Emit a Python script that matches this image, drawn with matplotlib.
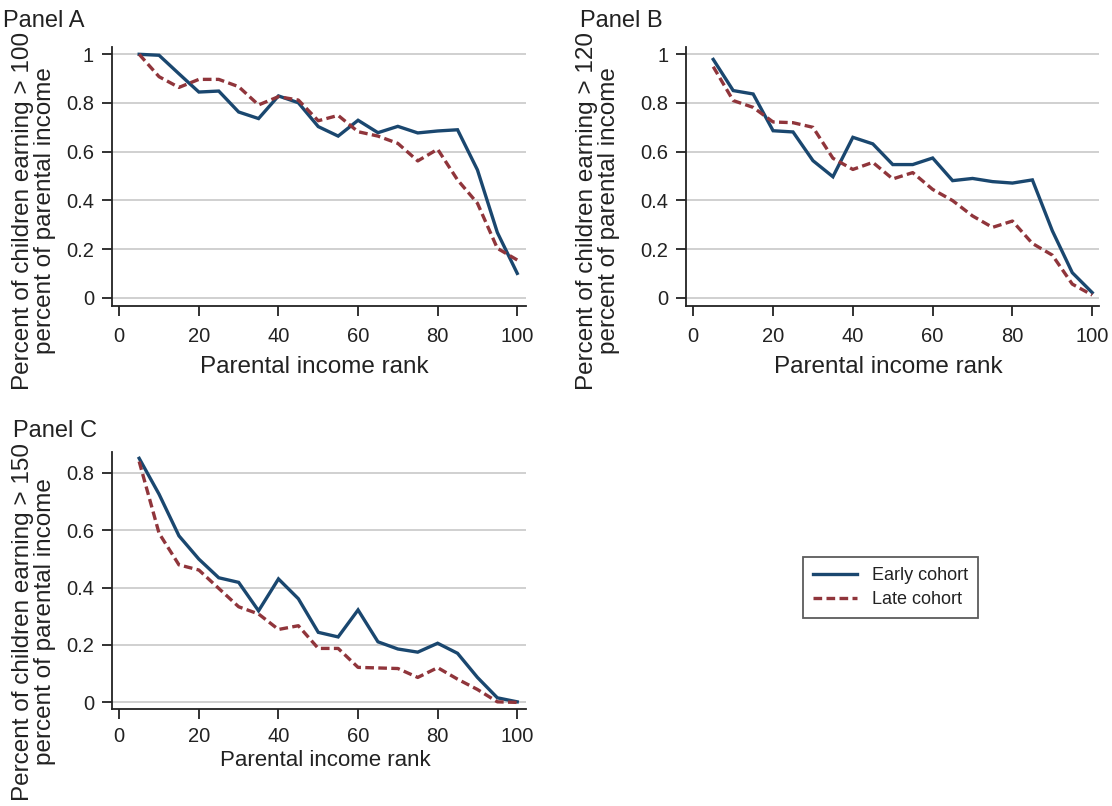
import matplotlib
matplotlib.use("Agg")
import matplotlib.pyplot as plt
import numpy as np

plt.rcParams['font.family'] = ['Liberation Sans', 'DejaVu Sans']

rank = [5, 10, 15, 20, 25, 30, 35, 40, 45, 50, 55, 60, 65, 70, 75, 80, 85, 90, 95, 100]

a_early = [1.0, 0.996, 0.92, 0.845, 0.849, 0.763, 0.736, 0.829, 0.801, 0.703,
           0.664, 0.729, 0.678, 0.704, 0.677, 0.685, 0.69, 0.525, 0.268, 0.10]
a_late = [1.0, 0.908, 0.864, 0.897, 0.897, 0.867, 0.792, 0.826, 0.812, 0.727,
          0.749, 0.682, 0.664, 0.634, 0.562, 0.61, 0.484, 0.388, 0.203, 0.155]

b_early = [0.979, 0.851, 0.837, 0.686, 0.681, 0.563, 0.497, 0.659, 0.632, 0.547,
           0.547, 0.574, 0.481, 0.490, 0.477, 0.471, 0.484, 0.275, 0.103, 0.021]
b_late = [0.949, 0.81, 0.782, 0.722, 0.719, 0.70, 0.573, 0.527, 0.556, 0.488,
          0.514, 0.445, 0.399, 0.336, 0.289, 0.315, 0.223, 0.175, 0.056, 0.011]

c_early = [0.850, 0.725, 0.580, 0.499, 0.434, 0.418, 0.319, 0.430, 0.361, 0.244,
           0.228, 0.322, 0.211, 0.186, 0.175, 0.206, 0.171, 0.087, 0.016, 0.002]
c_late = [0.839, 0.589, 0.479, 0.461, 0.397, 0.333, 0.308, 0.254, 0.267, 0.188,
          0.188, 0.122, 0.120, 0.118, 0.087, 0.121, 0.081, 0.045, 0.002, 0.0]

x_ticks = [0, 20, 40, 60, 80, 100]
y_ticks_ab = [0, 0.2, 0.4, 0.6, 0.8, 1]
y_ticks_c = [0, 0.2, 0.4, 0.6, 0.8]
panel_titles = ["Panel A", "Panel B", "Panel C"]
ylabels = ["Percent of children earning > 100\npercent of parental income",
           "Percent of children earning > 120\npercent of parental income",
           "Percent of children earning > 150\npercent of parental income"]
xlabel = "Parental income rank"
legend_labels = ["Early cohort", "Late cohort"]

BLUE = '#1a476f'
RED = '#90353b'
TXT = '#222222'
W, H = 1112, 806

fig = plt.figure(figsize=(W / 100, H / 100), dpi=100)
fig.patch.set_facecolor('white')


def fx(px):
    return px / W


def fy(py):
    return 1 - py / H


def make_ax(left, top, right, bottom, xlim, ylim, yticks, early, late, xpad):
    ax = fig.add_axes([fx(left), fy(bottom), fx(right - left), (bottom - top) / H])
    ax.set_xlim(*xlim)
    ax.set_ylim(*ylim)
    for s in ['top', 'right']:
        ax.spines[s].set_visible(False)
    for s in ['left', 'bottom']:
        ax.spines[s].set_linewidth(1.3)
        ax.spines[s].set_color('#222222')
    ax.set_xticks(x_ticks)
    ax.set_xticklabels([str(t) for t in x_ticks])
    ax.set_yticks(yticks)
    ax.set_yticklabels(['%g' % t for t in yticks])
    ax.tick_params(axis='both', direction='out', width=1.3, color='#222222',
                   labelsize=14.5, labelcolor=TXT)
    ax.tick_params(axis='y', length=7.2, pad=5.5)
    ax.tick_params(axis='x', length=7, pad=xpad)
    ax.yaxis.grid(True, color='#d0d0d0', linewidth=1.4)
    ax.set_axisbelow(True)
    l1, = ax.plot(rank, early, color=BLUE, lw=2.4, solid_joinstyle='miter')
    l2, = ax.plot(rank, late, color=RED, lw=2.4, linestyle=(0, (2.6, 1.3)))
    return ax, l1, l2


axA, h1, h2 = make_ax(111.7, 47, 526, 306, (-1.9, 102.2), (-0.034, 1.03), y_ticks_ab, a_early, a_late, 8)
axB, _, _ = make_ax(686, 47, 1099, 306, (-1.83, 101.7), (-0.034, 1.03), y_ticks_ab, b_early, b_late, 8)
axC, _, _ = make_ax(111.7, 451.7, 526, 709.3, (-1.9, 102.2), (-0.024, 0.873), y_ticks_c, c_early, c_late, 6)

# panel titles
fig.text(fx(3), fy(27), panel_titles[0], fontsize=17, color=TXT, ha='left', va='baseline')
fig.text(fx(580), fy(27), panel_titles[1], fontsize=17, color=TXT, ha='left', va='baseline')
fig.text(fx(13), fy(437), panel_titles[2], fontsize=17, color=TXT, ha='left', va='baseline')

# y labels
for (cx, cy), lab in zip([(34, 211), (598, 211), (34, 622)], ylabels):
    fig.text(fx(cx), fy(cy), lab, fontsize=17.5, color=TXT, rotation=90,
             ha='center', va='center', multialignment='center', linespacing=1.0)

# x labels
fig.text(fx(314), fy(373), xlabel, fontsize=17.5, color=TXT, ha='center', va='baseline')
fig.text(fx(888), fy(373), xlabel, fontsize=17.5, color=TXT, ha='center', va='baseline')
fig.text(fx(325), fy(766), xlabel, fontsize=16, color=TXT, ha='center', va='baseline')

leg = fig.legend([h1, h2], legend_labels, loc='upper left',
                 bbox_to_anchor=(fx(803), fy(557)), borderaxespad=0,
                 fontsize=13, frameon=True, fancybox=False, handlelength=2.45,
                 handletextpad=0.8, borderpad=0.55, labelspacing=0.4)
leg.get_frame().set_edgecolor('#333333')
leg.get_frame().set_linewidth(1.3)
for t in leg.get_texts():
    t.set_color(TXT)

fig.savefig('out.png', dpi=100, facecolor='white')
